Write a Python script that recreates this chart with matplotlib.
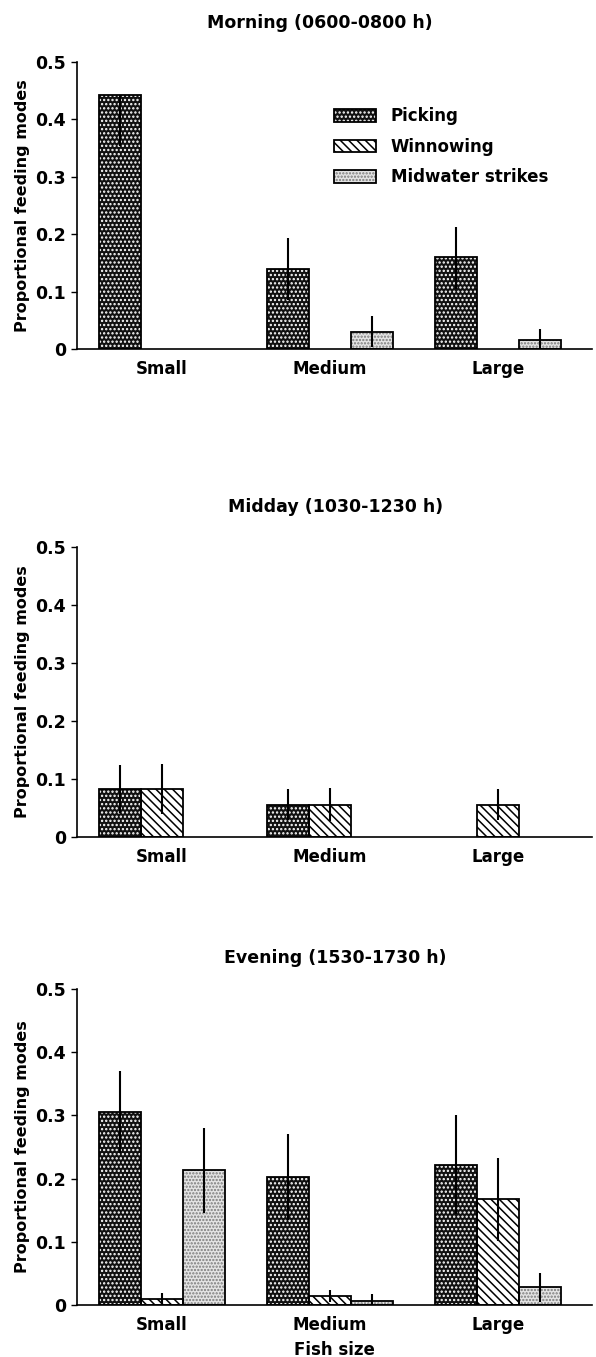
import numpy as np
import matplotlib
matplotlib.use('Agg')
import matplotlib.pyplot as plt
from matplotlib.patches import Patch

plt.rcParams['font.family'] = ['DejaVu Sans']
plt.rcParams['font.weight'] = 'bold'
plt.rcParams['hatch.linewidth'] = 1.1

sizes = ['Small', 'Medium', 'Large']
modes = ['Picking', 'Winnowing', 'Midwater strikes']
titles = ['Morning (0600-0800 h)', 'Midday (1030-1230 h)', 'Evening (1530-1730 h)']

# Morning
morning_pick = [0.443, 0.140, 0.160]
morning_pick_lo = [0.090, 0.054, 0.055]
morning_pick_hi = [0.000, 0.054, 0.053]
morning_winn = [0.0, 0.0, 0.0]
morning_winn_se = [0.0, 0.0, 0.0]
morning_mid = [0.0, 0.030, 0.015]
morning_mid_se = [0.0, 0.027, 0.020]

# Midday
midday_pick = [0.083, 0.056, 0.0]
midday_pick_se = [0.041, 0.026, 0.0]
midday_winn = [0.083, 0.056, 0.056]
midday_winn_se = [0.043, 0.028, 0.026]
midday_mid = [0.0, 0.0, 0.0]
midday_mid_se = [0.0, 0.0, 0.0]

# Evening
evening_pick = [0.305, 0.202, 0.222]
evening_pick_se = [0.065, 0.068, 0.078]
evening_winn = [0.010, 0.014, 0.167]
evening_winn_se = [0.009, 0.010, 0.066]
evening_mid = [0.213, 0.007, 0.028]
evening_mid_se = [0.067, 0.011, 0.023]

# fill style per feeding mode: face, hatch colour, hatch
styles = [
    ('#111111', 'white', '....'),
    ('white', 'black', '\\\\\\\\'),
    ('#e4e4e4', '#7a7a7a', '.....'),
]

panels = [
    [(morning_pick, morning_pick_lo, morning_pick_hi),
     (morning_winn, morning_winn_se, morning_winn_se),
     (morning_mid, morning_mid_se, morning_mid_se)],
    [(midday_pick, midday_pick_se, midday_pick_se),
     (midday_winn, midday_winn_se, midday_winn_se),
     (midday_mid, midday_mid_se, midday_mid_se)],
    [(evening_pick, evening_pick_se, evening_pick_se),
     (evening_winn, evening_winn_se, evening_winn_se),
     (evening_mid, evening_mid_se, evening_mid_se)],
]

fig = plt.figure(figsize=(5.96, 13.57), dpi=100)
W, H = 596.0, 1357.0

# axes rectangles in pixels: (top of 0.5, bottom at 0)
ax_rows = [(62, 349), (547, 837), (989, 1305)]
title_pos = [(320, 23), (336, 507), (335, 958)]
left_px, right_px = 77, 592

width = 0.25
x = np.arange(len(sizes))

for p, (top, bot) in enumerate(ax_rows):
    ax = fig.add_axes([left_px / W, 1 - bot / H, (right_px - left_px) / W, (bot - top) / H])
    for m, (vals, lo, hi) in enumerate(panels[p]):
        face, hcol, hatch = styles[m]
        xs = x + (m - 1) * width
        vals = np.array(vals)
        keep = vals > 0
        ax.bar(xs[keep], vals[keep], width, color=face, edgecolor=hcol,
               hatch=hatch, linewidth=0, zorder=2)
        ax.bar(xs[keep], vals[keep], width, fill=False, edgecolor='black',
               linewidth=1.3, zorder=3)
        ax.errorbar(xs[keep], vals[keep],
                    yerr=[np.array(lo)[keep], np.array(hi)[keep]],
                    fmt='none', ecolor='black', elinewidth=1.5, capsize=0, zorder=4)

    ax.set_xlim(-0.506, 2.56)
    ax.set_ylim(0, 0.5)
    ax.set_yticks([0, 0.1, 0.2, 0.3, 0.4, 0.5])
    ax.set_yticklabels(['0', '0.1', '0.2', '0.3', '0.4', '0.5'])
    ax.set_xticks(x)
    ax.set_xticklabels(sizes)
    ax.tick_params(axis='y', length=4, width=1, pad=4, labelsize=12.5)
    ax.tick_params(axis='x', length=0, pad=8, labelsize=12)
    for s in ['top', 'right']:
        ax.spines[s].set_visible(False)
    for s in ['left', 'bottom']:
        ax.spines[s].set_linewidth(1.2)
    ax.set_ylabel('Proportional feeding modes', fontsize=11.5, fontweight='bold')
    ax.yaxis.set_label_coords((30 - left_px) / (right_px - left_px), 0.5)

    fig.text(title_pos[p][0] / W, 1 - title_pos[p][1] / H, titles[p],
             ha='center', va='center', fontsize=12.5, fontweight='bold')

    if p == 0:
        handles = []
        for face, hcol, hatch in styles:
            handles.append((Patch(facecolor=face, edgecolor=hcol, hatch=hatch, linewidth=0),
                            Patch(fill=False, edgecolor='black', linewidth=1.3)))
        ax.legend(handles, modes, loc='upper left',
                  bbox_to_anchor=((326 - left_px) / (right_px - left_px), (bot - 99) / (bot - top)),
                  frameon=False, fontsize=12, borderpad=0, handlelength=2.5,
                  handleheight=0.8, handletextpad=0.9, labelspacing=0.75)
    if p == 2:
        ax.set_xlabel('Fish size', fontsize=12, fontweight='bold', labelpad=5)

fig.savefig('out.png', dpi=100)
